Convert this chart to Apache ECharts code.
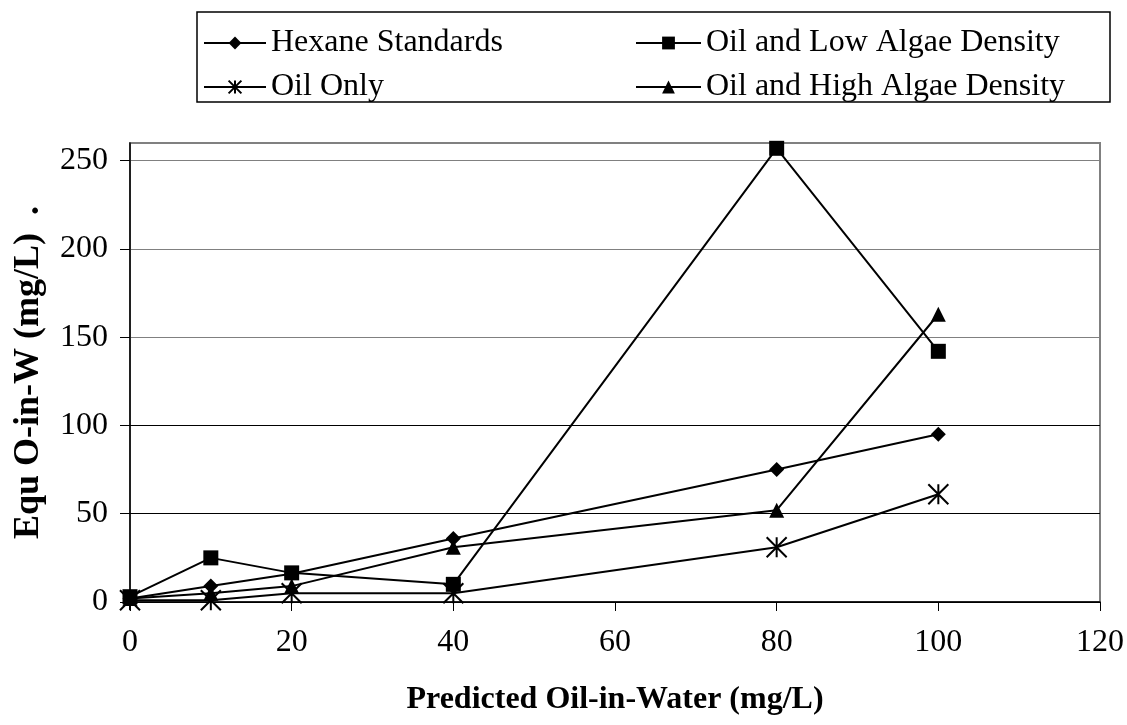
<!DOCTYPE html>
<html>
<head>
<meta charset="utf-8">
<script src="https://cdn.jsdelivr.net/npm/echarts@6/dist/echarts.min.js"></script>
<style>
html,body{margin:0;padding:0;background:#fff;}
#chart{width:1127px;height:725px;}
</style>
</head>
<body>
<div id="chart"></div>
<script>
// ---- data ----
const xValues = [0, 10, 20, 40, 80, 100];
const hexaneStandards = [2, 9, 16, 36, 75, 95];
const oilLowAlgae = [3, 25, 16.5, 10, 257, 142];
const oilOnly = [1, 1, 5, 5, 31, 61];
const oilHighAlgae = [2, 5, 9, 31, 52, 163];
const seriesNames = ['Hexane Standards', 'Oil and Low Algae Density', 'Oil Only', 'Oil and High Algae Density'];
const xTicks = [0, 20, 40, 60, 80, 100, 120];
const yTicks = [0, 50, 100, 150, 200, 250];
const xTitle = 'Predicted Oil-in-Water (mg/L)';
const yTitle = 'Equ O-in-W (mg/L)  .';

const FONT = '"Liberation Serif", "Times New Roman", serif';
const starPath = 'path://M0,0L10,10M10,0L0,10M5,0L5,10';

function pairs(vals) { return xValues.map((x, i) => [x, vals[i]]); }

function mkSeries(name, vals, symbol, size, extraItem) {
  return {
    name: name,
    type: 'line',
    data: pairs(vals),
    symbol: symbol,
    symbolSize: size,
    showAllSymbol: true,
    color: '#000',
    lineStyle: { color: '#000', width: 2 },
    itemStyle: Object.assign({ color: '#000', borderWidth: 0 }, extraItem || {}),
    emphasis: { disabled: true },
    animation: false
  };
}

const chart = echarts.init(document.getElementById('chart'), null, { renderer: 'canvas' });

const legendText = { fontFamily: FONT, fontSize: 32, color: '#000', lineHeight: 30 };

chart.setOption({
  backgroundColor: '#fff',
  animation: false,
  graphic: [{
    type: 'rect',
    shape: { x: 197, y: 12, width: 913, height: 90 },
    style: { fill: 'none', stroke: '#000', lineWidth: 1.5 },
    z: 0
  }],
  legend: [
    {
      orient: 'vertical', left: 203, top: 27, padding: 0,
      itemWidth: 62, itemHeight: 16, itemGap: 12,
      data: [seriesNames[0], seriesNames[2]],
      textStyle: legendText, selectedMode: false
    },
    {
      orient: 'vertical', left: 635, top: 27, padding: 0,
      itemWidth: 65, itemHeight: 16, itemGap: 12,
      data: [seriesNames[1], seriesNames[3]],
      textStyle: legendText, selectedMode: false
    }
  ],
  grid: {
    left: 130, right: 27, top: 143, bottom: 123,
    show: true, borderColor: '#808080', borderWidth: 2, backgroundColor: 'transparent'
  },
  xAxis: {
    type: 'value',
    min: xTicks[0], max: xTicks[xTicks.length - 1], interval: 20,
    name: xTitle, nameLocation: 'middle', nameGap: 82,
    nameTextStyle: { fontFamily: FONT, fontSize: 32, fontWeight: 'bold', color: '#000' },
    axisLine: { show: true, onZero: false, lineStyle: { color: '#000', width: 1.5 } },
    axisTick: { show: true, inside: false, length: 9, lineStyle: { color: '#000', width: 1 } },
    axisLabel: { fontFamily: FONT, fontSize: 32, color: '#000', margin: 25 },
    splitLine: { show: false }
  },
  yAxis: {
    type: 'value',
    min: 0, max: 260, interval: 50,
    name: yTitle, nameLocation: 'middle', nameGap: 83,
    nameTextStyle: { fontFamily: FONT, fontSize: 36, fontWeight: 'bold', color: '#000' },
    axisLine: { show: true, onZero: false, lineStyle: { color: '#000', width: 1.5 } },
    axisTick: { show: true, inside: false, length: 10, customValues: yTicks, lineStyle: { color: '#000', width: 1 } },
    axisLabel: { fontFamily: FONT, fontSize: 32, color: '#000', margin: 22, customValues: yTicks },
    splitLine: { show: true, lineStyle: { color: ['#000', '#000', '#000', '#808080', '#808080', '#808080', '#808080'], width: 1 } }
  },
  series: [
    mkSeries(seriesNames[0], hexaneStandards, 'diamond', 15),
    mkSeries(seriesNames[1], oilLowAlgae, 'rect', 15),
    mkSeries(seriesNames[2], oilOnly, starPath, 20, { color: '#000', borderColor: '#000', borderWidth: 2 }),
    mkSeries(seriesNames[3], oilHighAlgae, 'triangle', 15)
  ]
});
</script>
</body>
</html>
